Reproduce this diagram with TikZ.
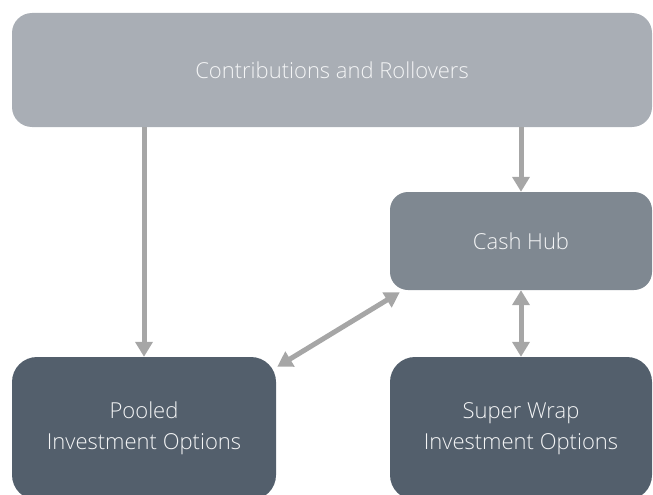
\documentclass[tikz,border=0pt]{standalone}
\usepackage{fontspec}
\setmainfont{Open Sans}[UprightFont={* Light}]
\usetikzlibrary{arrows.meta,calc}
\definecolor{topc}{HTML}{A9AEB5}
\definecolor{cashc}{HTML}{7F8891}
\definecolor{darkc}{HTML}{535F6C}
\definecolor{arrc}{HTML}{A6A6A6}
\definecolor{txtc}{HTML}{F4F5F6}
\begin{document}
\begin{tikzpicture}[x=1pt,y=-1pt,
  box/.style={rectangle,inner sep=0pt,text=txtc,align=center,font=\fontsize{22}{31}\selectfont},
  arr/.style={draw=arrc,line width=5pt,-{Triangle[width=17pt,length=15pt]}},
  darr/.style={draw=arrc,line width=5pt,{Triangle[width=17pt,length=15pt]}-{Triangle[width=17pt,length=15pt]}}]
\useasboundingbox (0,0) rectangle (653,495);
\node[box,fill=topc,rounded corners=20pt,minimum width=640pt,minimum height=114pt] (top) at (332,70) {Contributions and Rollovers};
\node[box,fill=cashc,rounded corners=18pt,minimum width=262pt,minimum height=98pt] (cash) at (521,241) {Cash Hub};
\node[box,fill=darkc,rounded corners=25pt,minimum width=264pt,minimum height=143pt] (pooled) at (144,428.5) {Pooled\\Investment Options};
\node[box,fill=darkc,rounded corners=25pt,minimum width=262pt,minimum height=143pt] (super) at (521,428.5) {Super Wrap\\Investment Options};
\draw[arr] (pooled.north |- top.south) -- (pooled.north);
\draw[arr] (cash.north |- top.south) -- (cash.north);
\draw[darr] (cash.south) -- (super.north);
\draw[darr] ($(pooled.north east)+(1,10)$) -- ($(cash.south west)+(10,2)$);
\end{tikzpicture}
\end{document}
